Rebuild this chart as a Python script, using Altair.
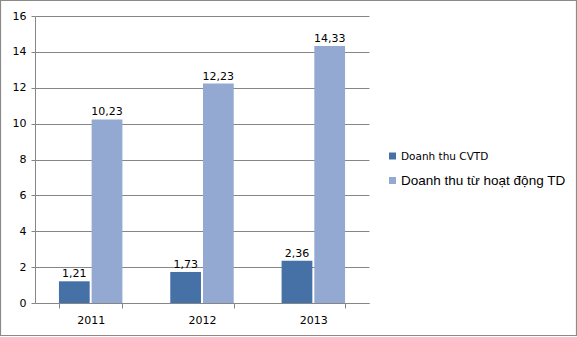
import altair as alt
import pandas as pd

years = ["2011", "2012", "2013"]
series = ["Doanh thu CVTD", "Doanh thu từ hoạt động TD"]
cvtd = [1.21, 1.73, 2.36]
hoatdong = [10.23, 12.23, 14.33]
colors = ["#4571a6", "#93a9d1"]
y_ticks = [0, 2, 4, 6, 8, 10, 12, 14, 16]

rows = []
for i, y in enumerate(years):
    rows.append({"year": y, "series": series[0], "value": cvtd[i]})
    rows.append({"year": y, "series": series[1], "value": hoatdong[i]})
df = pd.DataFrame(rows)

W, H = 334, 287
FONT = "DejaVu Sans"

yaxis = alt.Axis(values=y_ticks, gridColor="#868686", grid=True,
                 labelOverlap=False, tickCount=9,
                 domainColor="#868686", tickColor="#868686",
                 tickSize=4, labelFont=FONT, labelFontSize=11,
                 labelColor="#000000", labelPadding=5)

base = alt.Chart(df).encode(
    x=alt.X("year:N", sort=years, title=None,
            scale=alt.Scale(paddingInner=0.43, paddingOuter=0.215),
            axis=alt.Axis(labelAngle=0, tickBand="extent", grid=False,
                          domainColor="#868686", tickColor="#868686",
                          tickSize=5, labelFont=FONT, labelFontSize=11,
                          labelColor="#000000", labelPadding=6)),
    xOffset=alt.XOffset("series:N", sort=series,
                        scale=alt.Scale(paddingInner=0.06)),
    y=alt.Y("value:Q", title=None, scale=alt.Scale(domain=[0, 16]), axis=yaxis),
)

bars = base.mark_bar().encode(
    color=alt.Color("series:N", sort=series,
                    scale=alt.Scale(domain=series, range=colors), legend=None),
)

labels = base.mark_text(baseline="bottom", dy=-2, font=FONT, fontSize=11,
                        color="#000000").encode(
    text=alt.Text("label:N"),
).transform_calculate(label="replace(format(datum.value, '.2f'), '.', ',')")

leg_df = pd.DataFrame({"s": [0]})
leg_sq1 = alt.Chart(leg_df).mark_square(size=49, color=colors[0], opacity=1).encode(
    x=alt.value(357.5), y=alt.value(140))
leg_sq2 = alt.Chart(leg_df).mark_square(size=49, color=colors[1], opacity=1).encode(
    x=alt.value(357.5), y=alt.value(164.5))
leg_t1 = alt.Chart(leg_df).mark_text(align="left", baseline="middle", font=FONT,
                                     fontSize=10.5, color="#000000",
                                     text=series[0]).encode(
    x=alt.value(366), y=alt.value(140.5))
leg_t2 = alt.Chart(leg_df).mark_text(align="left", baseline="middle",
                                     font="Liberation Sans", fontSize=13.5,
                                     color="#000000", text=series[1]).encode(
    x=alt.value(366), y=alt.value(165))

border = alt.Chart(leg_df).mark_rect(fill=None, stroke="#8a8a8a",
                                     strokeWidth=1.2).encode(
    x=alt.value(-34.5), x2=alt.value(541.5),
    y=alt.value(-15.5), y2=alt.value(319.5))

chart = alt.layer(bars, labels, leg_sq1, leg_sq2, leg_t1, leg_t2, border).properties(
    width=W, height=H,
    autosize=alt.AutoSizeParams(type="none"),
    padding={"left": 35, "top": 16, "right": 208, "bottom": 34},
    background="#ffffff",
).configure_view(stroke=None)

chart.save("out.html", embed_options={"renderer": "svg", "actions": False})
